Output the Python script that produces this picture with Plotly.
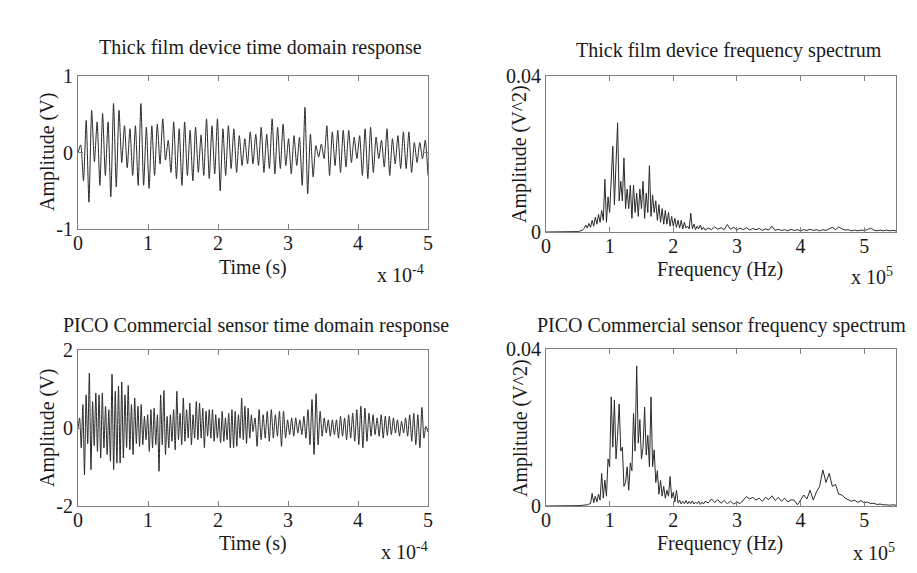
import numpy as np
import plotly.graph_objects as go

# ---------------- data ----------------
# Time axis unit: 1e-4 s ; frequency axis unit: 1e5 Hz ; spectra values in 1e-3 V^2

# Thick film device: successive extrema of the time-domain response (V)
thick_time_v = [0.0,
    0.10, -0.37, 0.42, -0.65, 0.55, -0.12, 0.40, -0.43, 0.51, -0.30, 0.40, -0.58, 0.64, -0.45, 0.55, -0.13,
    0.35, -0.20, 0.31, -0.30, 0.35, -0.43, 0.64, -0.43, 0.33, -0.47, 0.35, -0.30, 0.37, -0.15, 0.44, -0.10,
    0.16, -0.26, 0.40, -0.34, 0.31, -0.43, 0.40, -0.30, 0.29, -0.37, 0.33, -0.26, 0.23, -0.30, 0.44, -0.34,
    0.35, -0.28, 0.44, -0.50, 0.31, -0.30, 0.35, -0.21, 0.31, -0.26, 0.22, -0.17, 0.18, -0.15,
    0.27, -0.15, 0.24, -0.17, 0.33, -0.26, 0.24, -0.21, 0.44, -0.28, 0.33, -0.21, 0.37, -0.17, 0.18, -0.28,
    0.22, -0.17, 0.20, -0.43, 0.59, -0.54, 0.24, -0.32, 0.09, -0.06, 0.11, -0.08, 0.35, -0.30, 0.27, -0.17,
    0.29, -0.26, 0.29, -0.19, 0.29, -0.13, 0.20, -0.08, 0.22, -0.30, 0.31, -0.34, 0.33, -0.26, 0.20, -0.08,
    0.16, -0.19, 0.31, -0.30, 0.18, -0.15, 0.22, -0.21, 0.27, -0.21, 0.27, -0.26, 0.13, -0.13, 0.13, -0.08,
    0.16, -0.30]

# PICO commercial sensor: extrema, first half (0 - 2.5e-4 s)
pico_time_v_first = [0.0,
    0.26, -0.51, 0.60, -1.20, 0.85, -0.40, 1.41, -1.07, 0.68, -0.45, 0.90, -0.60, 0.85, -0.77, 0.90, -0.51,
    0.56, -0.68, 0.47, -0.85, 1.38, -1.07, 0.94, -0.90, 1.07, -0.90, 1.18, -0.77, 0.85, -0.50, 1.09, -0.56,
    0.60, -0.68, 0.77, -0.40, 0.56, -0.47, 0.60, -0.43, 0.30, -0.30, 0.34, -0.60, 0.47, -0.51, 0.51, -0.43,
    0.34, -1.11, 0.85, -0.43, 0.96, -0.68, 0.30, -0.51, 0.34, -0.34, 0.47, -0.56, 0.94, -0.30, 0.38, -0.43,
    0.77, -0.34, 0.47, -0.26, 0.64, -0.43, 0.34, -0.26, 0.68, -0.30, 0.64, -0.26, 0.51, -0.51, 0.43, -0.21,
    0.47, -0.26, 0.47, -0.34, 0.34, -0.26, 0.26, -0.38, 0.43, -0.34, 0.26, -0.30, 0.38, -0.51, 0.47, -0.51,
    0.43, -0.47, 0.34, -0.26, 0.77, -0.30, 0.56, -0.40, 0.51, -0.26, 0.34, -0.09]

# PICO commercial sensor: extrema, second half (2.5e-4 - 5e-4 s)
pico_time_v_second = [
    0.26, -0.47, 0.47, -0.30, 0.34, -0.26, 0.43, -0.34, 0.47, -0.26, 0.34, -0.21, 0.43, -0.47, 0.43, -0.26,
    0.21, -0.17, 0.26, -0.21, 0.26, -0.13, 0.21, -0.17, 0.30, -0.26, 0.47, -0.43, 0.73, -0.68, 0.88, -0.43,
    0.43, -0.21, 0.26, -0.13, 0.21, -0.21, 0.21, -0.17, 0.21, -0.26, 0.30, -0.21, 0.26, -0.30, 0.34, -0.26,
    0.38, -0.34, 0.47, -0.43, 0.56, -0.51, 0.51, -0.34, 0.38, -0.21, 0.34, -0.17, 0.26, -0.21, 0.34, -0.26,
    0.30, -0.19, 0.30, -0.17, 0.26, -0.13, 0.21, -0.21, 0.17, -0.13, 0.26, -0.21, 0.34, -0.34, 0.38, -0.43,
    0.34, -0.51, 0.53, -0.26, 0.04, -0.10]

# Spectra (1e-3 V^2): low band 0-0.45, main band 0.5-2.5 (step 0.025), tail 2.55-5.5 (step 0.05)
thick_spec_low = [0, 0, 0, 0, 0, 0, 0, 0, 0.05, 0.1]
thick_spec_main = [
    0.1, 0.2, 0.3, 0.5, 0.9, 1.8, 1.0, 2.2, 1.2, 3.0,
    1.5, 3.8, 2.0, 4.5, 2.5, 5.5, 3.0, 13.5, 2.5, 9.0,
    5.0, 14.0, 22.0, 7.0, 16.0, 28.0, 8.0, 13.0, 8.0, 19.0,
    6.0, 11.0, 6.0, 12.0, 3.5, 12.0, 5.0, 10.0, 4.0, 11.0,
    6.0, 13.0, 3.5, 10.0, 5.0, 17.0, 4.0, 9.5, 5.0, 8.0,
    3.0, 7.0, 2.5, 6.0, 2.0, 5.5, 2.0, 5.0, 1.5, 4.0,
    1.5, 3.5, 1.2, 3.0, 1.0, 3.0, 0.8, 2.5, 1.0, 1.5,
    0.8, 4.8, 0.8, 2.0, 0.6, 1.5, 0.8, 1.8, 0.6, 1.2,
    0.5]
thick_spec_tail = [
    1.0, 0.6, 1.3, 0.7, 1.1, 0.6, 1.9, 0.7, 1.2, 0.5,
    1.0, 0.6, 1.1, 0.5, 0.9, 0.6, 0.9, 0.4, 0.8, 0.5,
    1.5, 0.4, 0.7, 0.4, 0.6, 0.3, 0.7, 0.4, 0.6, 0.3,
    0.6, 0.4, 0.7, 0.4, 0.6, 0.3, 0.6, 0.4, 0.8, 1.2,
    0.6, 1.3, 0.8, 0.5, 0.6, 0.3, 0.5, 0.3, 0.5, 0.4,
    0.6, 1.0, 0.5, 0.3, 0.5, 0.3, 0.5, 0.3, 0.4, 0.3]

pico_spec_low = [0, 0, 0, 0, 0, 0, 0, 0, 0.05, 0.1]
pico_spec_main = [
    0.1, 0.1, 0.1, 0.2, 0.2, 0.3, 0.3, 0.5, 0.6, 3.2,
    0.8, 2.5, 1.0, 3.0, 1.5, 8.3, 2.0, 6.6, 2.5, 12.0,
    10.0, 27.8, 15.0, 27.0, 12.0, 18.0, 26.0, 14.0, 15.0, 5.0,
    6.0, 10.0, 4.0, 11.0, 9.0, 23.6, 14.0, 35.7, 16.0, 22.0,
    12.0, 15.0, 25.2, 13.0, 18.0, 10.0, 27.8, 10.0, 14.3, 6.0,
    9.0, 3.0, 6.5, 2.5, 5.0, 2.0, 4.0, 2.5, 7.5, 2.0,
    3.5, 1.0, 4.0, 0.8, 1.5, 0.5, 1.2, 0.6, 1.4, 0.5,
    1.2, 0.6, 1.3, 0.5, 1.0, 0.6, 1.2, 0.4, 1.0, 0.5,
    1.2]
pico_spec_tail = [
    0.8, 1.8, 0.9, 1.6, 0.7, 1.4, 0.6, 1.2, 0.5, 1.0,
    0.6, 1.5, 2.4, 1.8, 2.2, 1.5, 2.0, 1.2, 2.2, 1.6,
    2.6, 1.4, 2.2, 1.2, 2.0, 1.0, 1.6, 1.5, 0.3, 1.5,
    2.8, 1.8, 4.0, 1.5, 3.6, 5.0, 9.2, 6.0, 8.3, 5.0,
    5.5, 3.0, 2.8, 2.0, 1.5, 1.2, 1.5, 0.9, 1.4, 0.8,
    1.0, 0.6, 0.7, 0.4, 0.5, 0.3, 0.3, 0.2, 0.3, 0.2]

x_ticks = [0, 1, 2, 3, 4, 5]
x_tick_text = ["0", "1", "2", "3", "4", "5"]

# ---------------- sample grids ----------------
t_thick = np.linspace(0, 5, len(thick_time_v))
t_pico = np.concatenate([np.linspace(0, 2.5, len(pico_time_v_first)),
                         np.linspace(2.5, 5, len(pico_time_v_second) + 1)[1:]])
v_pico = pico_time_v_first + pico_time_v_second


def spec_grid(low, main, tail):
    return np.concatenate([np.linspace(0, 0.45, len(low)),
                           np.linspace(0.5, 2.5, len(main)),
                           np.linspace(2.55, 5.5, len(tail))])


f_thick = spec_grid(thick_spec_low, thick_spec_main, thick_spec_tail)
s_thick = np.array(thick_spec_low + thick_spec_main + thick_spec_tail) * 1e-3
f_pico = spec_grid(pico_spec_low, pico_spec_main, pico_spec_tail)
s_pico = np.array(pico_spec_low + pico_spec_main + pico_spec_tail) * 1e-3

# ---------------- figure ----------------
# the page body has an 8px margin: size the figure to fit the 917x573 window
OFF = 8
W, H = 917 - 2 * OFF, 573 - 2 * OFF
FONT = "Liberation Serif"
TXT = "#1a1a1a"
LINE = dict(color="#2a2a2a", width=1)


def px_x(p):
    return (p - OFF) / W


def px_y(p):
    return 1 - (p - OFF) / H


fig = go.Figure()
fig.add_trace(go.Scatter(x=t_thick, y=thick_time_v, mode="lines", line=dict(**LINE, shape="spline", smoothing=0.6),
                         xaxis="x", yaxis="y", showlegend=False))
fig.add_trace(go.Scatter(x=f_thick, y=s_thick, mode="lines", line=LINE,
                         xaxis="x2", yaxis="y2", showlegend=False))
fig.add_trace(go.Scatter(x=t_pico, y=v_pico, mode="lines", line=dict(**LINE, shape="spline", smoothing=0.6),
                         xaxis="x3", yaxis="y3", showlegend=False))
fig.add_trace(go.Scatter(x=f_pico, y=s_pico, mode="lines", line=LINE,
                         xaxis="x4", yaxis="y4", showlegend=False))

common = dict(showline=True, linecolor="#808080", linewidth=1, mirror="allticks",
              ticks="inside", ticklen=5, tickcolor="#808080", showgrid=False, zeroline=False,
              tickfont=dict(family=FONT, size=20, color=TXT), fixedrange=True, automargin=False)
xcommon = dict(common, tickvals=x_ticks, ticktext=x_tick_text, ticklabelstandoff=-4)

# panel boxes in window pixels: (x0, x1, ytop, ybottom)
boxes = {
    1: (78, 428, 76, 229),
    2: (546, 896, 76, 232),
    3: (78, 428, 350, 506),
    4: (546, 896, 349, 506),
}


def dom(b):
    x0, x1, yt, yb = b
    return [px_x(x0), px_x(x1)], [px_y(yb), px_y(yt)]


d1x, d1y = dom(boxes[1])
d2x, d2y = dom(boxes[2])
d3x, d3y = dom(boxes[3])
d4x, d4y = dom(boxes[4])

fig.update_layout(
    width=W, height=H, margin=dict(l=0, r=0, t=0, b=0, pad=0, autoexpand=False),
    paper_bgcolor="white", plot_bgcolor="white",
    xaxis=dict(domain=d1x, anchor="y", range=[0, 5], **xcommon),
    yaxis=dict(domain=d1y, anchor="x", range=[-1, 1], tickvals=[-1, 0, 1], ticktext=["-1", "0", "1"], **common),
    xaxis2=dict(domain=d2x, anchor="y2", range=[0, 5.5], **xcommon),
    yaxis2=dict(domain=d2y, anchor="x2", range=[0, 0.04], tickvals=[0, 0.04], ticktext=["0", "0.04"], **common),
    xaxis3=dict(domain=d3x, anchor="y3", range=[0, 5], **xcommon),
    yaxis3=dict(domain=d3y, anchor="x3", range=[-2, 2], tickvals=[-2, 0, 2], ticktext=["-2", "0", "2"], **common),
    xaxis4=dict(domain=d4x, anchor="y4", range=[0, 5.5], **xcommon),
    yaxis4=dict(domain=d4y, anchor="x4", range=[0, 0.04], tickvals=[0, 0.04], ticktext=["0", "0.04"], **common),
)

texts = [
    # (text, x px, y px, angle, xanchor)  -- window pixels
    ("Thick film device time domain response", 260, 47, 0, "center"),
    ("Thick film device frequency spectrum", 729, 50, 0, "center"),
    ("PICO Commercial sensor time domain response", 256, 325, 0, "center"),
    ("PICO Commercial sensor frequency spectrum", 721, 325, 0, "center"),
    ("Time (s)", 253, 267, 0, "center"),
    ("Frequency (Hz)", 720, 270, 0, "center"),
    ("Time (s)", 253, 543, 0, "center"),
    ("Frequency (Hz)", 720, 543, 0, "center"),
    ("Amplitude (V)", 47, 152, -90, "center"),
    ("Amplitude (V^2)", 520, 154, -90, "center"),
    ("Amplitude (V)", 47, 428, -90, "center"),
    ("Amplitude (V^2)", 520, 428, -90, "center"),
    ("x 10<sup>-4</sup>", 426, 274, 0, "right"),
    ("x 10<sup>5</sup>", 895, 276, 0, "right"),
    ("x 10<sup>-4</sup>", 430, 551, 0, "right"),
    ("x 10<sup>5</sup>", 897, 552, 0, "right"),
]
for txt, x, y, ang, xa in texts:
    fig.add_annotation(text=txt, x=px_x(x), y=px_y(y), xref="paper", yref="paper",
                       xanchor=xa, yanchor="middle", textangle=ang, showarrow=False,
                       font=dict(family=FONT, size=20, color=TXT))

fig.write_html("out.html")
